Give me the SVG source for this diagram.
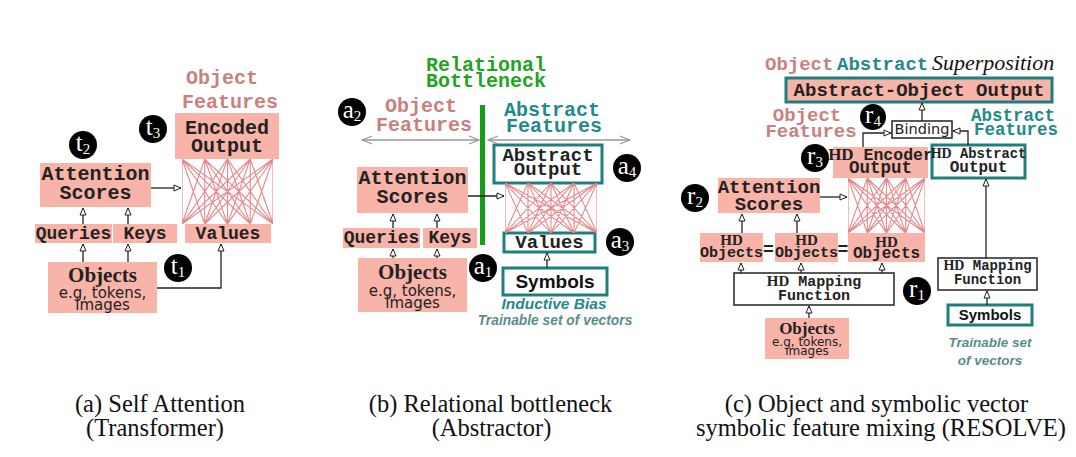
<svg xmlns="http://www.w3.org/2000/svg" xmlns:xlink="http://www.w3.org/1999/xlink" width="1076" height="457" viewBox="0 0 1076 457">
<style>
.pk{fill:#f8b4a8}
.tb{fill:#fff;stroke:#1f7f7f;stroke-width:3}
.pt{fill:#f8b4a8;stroke:#1f7f7f;stroke-width:3}
.wb{fill:#fff;stroke:#222;stroke-width:1.5}
.m{font-family:"Liberation Mono","DejaVu Sans Mono",monospace;font-weight:bold;text-anchor:middle;fill:#222}
.pl{fill:#c98080}
.tlc{fill:#1f8a8a}
.gr{fill:#22a322}
.ob{font-family:"Liberation Serif",serif;font-weight:bold;text-anchor:middle;fill:#222}
.eg{font-family:"DejaVu Sans","Liberation Sans",sans-serif;text-anchor:middle;fill:#222}
.sy{font-family:"Liberation Sans",Arial,sans-serif;font-weight:bold;text-anchor:middle;fill:#111}
.it{font-family:"Liberation Sans",Arial,sans-serif;font-weight:bold;font-style:italic;text-anchor:middle}
.cap{font-family:"Liberation Serif","Times New Roman",serif;font-size:24.5px;text-anchor:middle;fill:#111}
.ci{fill:#000}
.cl{font-family:"Liberation Serif",serif;font-size:25px;fill:#fff;text-anchor:middle}
.ar{fill:none;stroke:#222;stroke-width:1.3;marker-end:url(#ah)}
.ga{fill:none;stroke:#999;stroke-width:1.5;marker-start:url(#gh);marker-end:url(#gh)}
.hd{font-family:"Liberation Serif",serif;font-weight:bold}
</style>
<defs>
<marker id="ah" markerUnits="userSpaceOnUse" markerWidth="9" markerHeight="8" refX="8" refY="4" orient="auto">
<path d="M1,1 L8,4 L1,7 z" fill="#fff" stroke="#222" stroke-width="1"/>
</marker>
<marker id="gh" markerUnits="userSpaceOnUse" markerWidth="12" markerHeight="10" refX="11" refY="5" orient="auto-start-reverse">
<path d="M1,1 L11,5 L1,9" fill="none" stroke="#999" stroke-width="1.3"/>
</marker>
<symbol id="fc" viewBox="0 0 100 100" preserveAspectRatio="none">
<g stroke="#e8868a" stroke-width="1.1" fill="none">
<path vector-effect="non-scaling-stroke" d="M0,0L0,100M0,0L25,100M0,0L50,100M0,0L75,100M0,0L100,100M25,0L0,100M25,0L25,100M25,0L50,100M25,0L75,100M25,0L100,100M50,0L0,100M50,0L25,100M50,0L50,100M50,0L75,100M50,0L100,100M75,0L0,100M75,0L25,100M75,0L50,100M75,0L75,100M75,0L100,100M100,0L0,100M100,0L25,100M100,0L50,100M100,0L75,100M100,0L100,100"/>
</g>
</symbol>
</defs>
<rect width="1076" height="457" fill="#fff"/>

<!-- Panel (a) -->
<g id="a-object-features" class="m" font-size="20">
<text class="pl" x="222" y="84">Object</text>
<text class="pl" x="230" y="108">Features</text>
</g>
<g id="a-encoded-output">
<rect class="pk" x="175" y="113" width="104" height="46"/>
<text class="m" font-size="20" x="227" y="134">Encoded</text>
<text class="m" font-size="20" x="227" y="152">Output</text>
</g>
<g id="a-attention">
<rect class="pk" x="40" y="163" width="111" height="44"/>
<text class="m" font-size="20" x="95.5" y="180">Attention</text>
<text class="m" font-size="20" x="95.5" y="199">Scores</text>
</g>
<g id="a-queries"><rect class="pk" x="35" y="224" width="77" height="19"/><text class="m" font-size="18" x="73.5" y="239">Queries</text></g>
<g id="a-keys"><rect class="pk" x="113" y="224" width="64" height="19"/><text class="m" font-size="18" x="145" y="239">Keys</text></g>
<g id="a-values"><rect class="pk" x="185" y="224" width="86" height="19"/><text class="m" font-size="18" x="228" y="239">Values</text></g>
<g id="a-objects">
<rect class="pk" x="48" y="262" width="109" height="51"/>
<text class="ob" font-size="21" x="102.5" y="282">Objects</text>
<text class="eg" font-size="15" x="102.5" y="298">e.g, tokens,</text>
<text class="eg" font-size="15" x="102.5" y="310">images</text>
</g>
<g id="a-t1"><circle class="ci" cx="178" cy="268" r="14"/><text class="cl" x="178" y="274">t<tspan font-size="15" dy="3">1</tspan></text></g>
<g id="a-t2"><circle class="ci" cx="83" cy="145" r="14"/><text class="cl" x="83" y="151">t<tspan font-size="15" dy="3">2</tspan></text></g>
<g id="a-t3"><circle class="ci" cx="153" cy="129" r="14"/><text class="cl" x="153" y="135">t<tspan font-size="15" dy="3">3</tspan></text></g>

<!-- Panel (b) -->
<g id="b-title" class="m" font-size="20">
<text class="gr" x="486" y="71">Relational</text>
<text class="gr" x="486" y="87">Bottleneck</text>
</g>
<g id="b-object-features" class="m" font-size="20">
<text class="pl" x="421" y="112">Object</text>
<text class="pl" x="424" y="131">Features</text>
</g>
<g id="b-abstract-features" class="m" font-size="20">
<text class="tlc" x="552" y="116">Abstract</text>
<text class="tlc" x="554" y="132">Features</text>
</g>
<g id="b-bottleneck-bar"><rect x="480" y="105" width="5" height="140" fill="#179c17"/></g>
<g id="b-abstract-output">
<rect class="tb" x="494" y="145" width="108" height="38"/>
<text class="m" font-size="19" x="548" y="161">Abstract</text>
<text class="m" font-size="19" x="548" y="175">Output</text>
</g>
<g id="b-attention">
<rect class="pk" x="357" y="167" width="111" height="46"/>
<text class="m" font-size="20" x="412.5" y="184">Attention</text>
<text class="m" font-size="20" x="412.5" y="203">Scores</text>
</g>
<g id="b-queries"><rect class="pk" x="343" y="228" width="77" height="20"/><text class="m" font-size="18" x="381.5" y="243">Queries</text></g>
<g id="b-keys"><rect class="pk" x="423" y="228" width="54" height="20"/><text class="m" font-size="18" x="450" y="243">Keys</text></g>
<g id="b-values"><rect class="tb" x="504" y="233" width="91" height="19"/><text class="m" font-size="19" x="549.5" y="248">Values</text></g>
<g id="b-objects">
<rect class="pk" x="358" y="258" width="109" height="54"/>
<text class="ob" font-size="21" x="412.5" y="279">Objects</text>
<text class="eg" font-size="15" x="412.5" y="296">e.g, tokens,</text>
<text class="eg" font-size="15" x="412.5" y="308">images</text>
</g>
<g id="b-symbols">
<rect class="tb" x="503" y="268" width="104" height="27"/>
<text class="sy" font-size="19" x="555" y="288">Symbols</text>
</g>
<g id="b-notes">
<text class="it" font-size="15.5" x="554" y="309" fill="#1f8a8a">Inductive Bias</text>
<text class="it" font-size="13.8" x="555" y="325" fill="#5b8c8c">Trainable set of vectors</text>
</g>
<g id="b-a1"><circle class="ci" cx="483" cy="268" r="14"/><text class="cl" x="483" y="274">a<tspan font-size="15" dy="3">1</tspan></text></g>
<g id="b-a2"><circle class="ci" cx="352" cy="112" r="14"/><text class="cl" x="352" y="118">a<tspan font-size="15" dy="3">2</tspan></text></g>
<g id="b-a3"><circle class="ci" cx="620" cy="242" r="14"/><text class="cl" x="620" y="248">a<tspan font-size="15" dy="3">3</tspan></text></g>
<g id="b-a4"><circle class="ci" cx="627" cy="168" r="14"/><text class="cl" x="627" y="174">a<tspan font-size="15" dy="3">4</tspan></text></g>

<!-- Panel (c) -->
<g id="c-title">
<text class="m pl" font-size="19" x="765" y="70" style="text-anchor:start">Object</text>
<text class="m tlc" font-size="19" x="837" y="70" style="text-anchor:start">Abstract</text>
<text font-family="Liberation Serif,serif" font-style="italic" font-size="22" x="932" y="70" fill="#111">Superposition</text>
</g>
<g id="c-abstract-object-output">
<rect class="pt" x="786" y="78" width="266" height="24"/>
<text class="m" font-size="19" x="919" y="96">Abstract-Object Output</text>
</g>
<g id="c-object-features" class="m" font-size="19">
<text class="pl" x="807" y="121">Object</text>
<text class="pl" x="811" y="137">Features</text>
</g>
<g id="c-abstract-features" class="m" font-size="17.5">
<text class="tlc" x="1013" y="121">Abstract</text>
<text class="tlc" x="1016" y="135">Features</text>
</g>
<g id="c-binding">
<rect class="wb" x="892" y="121" width="60" height="17"/>
<text class="eg" font-size="14.5" x="922" y="134">Binding</text>
</g>
<g id="c-encoder-output">
<rect class="pk" x="833" y="147" width="95" height="31"/>
<text class="m" font-size="16.5" x="880.5" y="160"><tspan class="hd" font-size="17">HD</tspan> Encoder</text>
<text class="m" font-size="17.5" x="880.5" y="173">Output</text>
</g>
<g id="c-abstract-output">
<rect class="tb" x="932" y="145" width="93" height="33"/>
<text class="m" font-size="13.8" x="978.5" y="158"><tspan class="hd" font-size="14">HD</tspan> Abstract</text>
<text class="m" font-size="16" x="978.5" y="172">Output</text>
</g>
<g id="c-attention">
<rect class="pk" x="718" y="178" width="102" height="35"/>
<text class="m" font-size="19" x="769" y="193">Attention</text>
<text class="m" font-size="19" x="769" y="210">Scores</text>
</g>
<g id="c-hd-objects-1">
<rect class="pk" x="700" y="233" width="63" height="29"/>
<text class="m hd" font-size="15" x="731.5" y="245">HD</text>
<text class="m" font-size="15" x="731.5" y="257">Objects</text>
</g>
<g id="c-hd-objects-2">
<rect class="pk" x="775" y="233" width="63" height="29"/>
<text class="m hd" font-size="15" x="806.5" y="245">HD</text>
<text class="m" font-size="15" x="806.5" y="257">Objects</text>
</g>
<g id="c-hd-objects-3">
<rect class="pk" x="848" y="233" width="77" height="29"/>
<text class="m hd" font-size="15" x="886.5" y="247">HD</text>
<text class="m" font-size="16" x="886.5" y="258">Objects</text>
</g>
<g id="c-equals" class="m" font-size="18">
<text x="768.5" y="255">=</text>
<text x="843" y="255">=</text>
</g>
<g id="c-mapping-1">
<rect class="wb" x="734" y="273" width="160" height="32"/>
<text class="m" font-size="15" x="814" y="286"><tspan class="hd">HD</tspan> Mapping</text>
<text class="m" font-size="15" x="814" y="300">Function</text>
</g>
<g id="c-objects">
<rect class="pk" x="765" y="318" width="84" height="41"/>
<text class="ob" font-size="17" x="807" y="334">Objects</text>
<text class="eg" font-size="12" x="807" y="346">e.g, tokens,</text>
<text class="eg" font-size="12" x="807" y="355">images</text>
</g>
<g id="c-mapping-2">
<rect class="wb" x="938" y="258" width="99" height="32"/>
<text class="m" font-size="14" x="987.5" y="270"><tspan class="hd">HD</tspan> Mapping</text>
<text class="m" font-size="14" x="987.5" y="284">Function</text>
</g>
<g id="c-symbols">
<rect class="tb" x="948" y="305" width="84" height="20"/>
<text class="sy" font-size="15" x="990" y="320">Symbols</text>
</g>
<g id="c-notes">
<text class="it" font-size="13.5" x="990" y="347" fill="#5b8c8c">Trainable set</text>
<text class="it" font-size="13.5" x="990" y="365" fill="#5b8c8c">of vectors</text>
</g>
<g id="c-r1"><circle class="ci" cx="917" cy="291" r="14"/><text class="cl" x="917" y="297">r<tspan font-size="15" dy="3">1</tspan></text></g>
<g id="c-r2"><circle class="ci" cx="695" cy="198" r="14"/><text class="cl" x="695" y="204">r<tspan font-size="15" dy="3">2</tspan></text></g>
<g id="c-r3"><circle class="ci" cx="815" cy="158" r="14"/><text class="cl" x="815" y="164">r<tspan font-size="15" dy="3">3</tspan></text></g>
<g id="c-r4"><circle class="ci" cx="873" cy="117" r="13"/><text class="cl" x="873" y="123">r<tspan font-size="15" dy="3">4</tspan></text></g>

<!-- Connectors -->
<g id="connectors">
<use href="#fc" xlink:href="#fc" x="182" y="159" width="91" height="65"/>
<use href="#fc" xlink:href="#fc" x="505" y="183" width="92" height="50"/>
<use href="#fc" xlink:href="#fc" x="848" y="178" width="77" height="55"/>
<path class="ar" d="M151,188H181"/>
<path class="ar" d="M83,262V244"/>
<path class="ar" d="M128,262V244"/>
<path class="ar" d="M83,224V208"/>
<path class="ar" d="M128,224V208"/>
<path class="ar" d="M157,288H221V244"/>
<path class="ga" d="M362,140H479"/>
<path class="ga" d="M488,140H630"/>
<path class="ar" d="M468,196H504"/>
<path class="ar" d="M393,258V249"/>
<path class="ar" d="M437,258V249"/>
<path class="ar" d="M393,228V214"/>
<path class="ar" d="M437,228V214"/>
<path class="ar" d="M547,268V253"/>
<path class="ar" d="M820,197H847"/>
<path class="ar" d="M742,233V214"/>
<path class="ar" d="M797,233V214"/>
<path class="ar" d="M741,273V263"/>
<path class="ar" d="M801,273V263"/>
<path class="ar" d="M882,273V263"/>
<path class="ar" d="M809,318V306"/>
<path class="ar" d="M987,305V291"/>
<path class="ar" d="M986,258V179"/>
<path class="ar" d="M863,147V133H891"/>
<path class="ar" d="M968,145V131H953"/>
<path class="ar" d="M922,121V103"/>
</g>

<!-- Captions -->
<g id="captions">
<text class="cap" x="160" y="412">(a) Self Attention</text>
<text class="cap" x="155" y="436">(Transformer)</text>
<text class="cap" x="490.5" y="412">(b) Relational bottleneck</text>
<text class="cap" x="491.5" y="436">(Abstractor)</text>
<text class="cap" x="876.5" y="412">(c) Object and symbolic vector</text>
<text class="cap" x="881" y="436">symbolic feature mixing (RESOLVE)</text>
</g>
</svg>
